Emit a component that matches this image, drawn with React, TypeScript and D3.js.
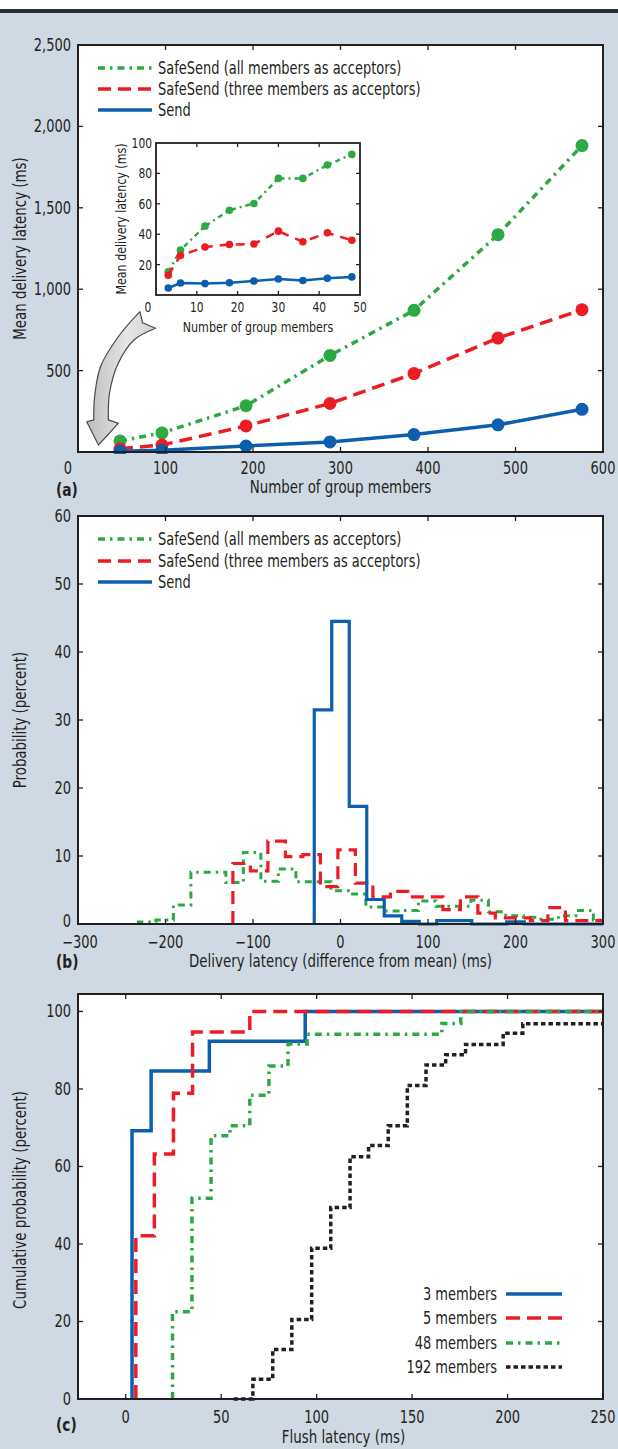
import React, { useEffect, useRef } from 'react';
import * as d3 from 'd3';

const FONT = "'Liberation Sans Narrow', 'DejaVu Sans Condensed', 'Arial Narrow', sans-serif";
const SX = 0.85; // the original face is a condensed one, squeeze ours to match
const INK = '#231f20';
const BG = '#cfd9e4';
const GREEN = '#2ea843';
const RED = '#ed1c24';
const BLUE = '#0c5fad';
const DARK = '#231f20';

const WIDTH = 618;
const HEIGHT = 1449;
const LEFT = 78;
const RIGHT = 603;

const seriesNames = [
  'SafeSend (all members as acceptors)',
  'SafeSend (three members as acceptors)',
  'Send',
];

// (a) mean delivery latency vs. number of group members
const groupSizes = [48, 96, 192, 288, 384, 480, 576];
const safeAllLatency = [68, 117, 284, 593, 870, 1335, 1882];
const safeThreeLatency = [20, 43, 160, 298, 482, 700, 874];
const sendLatency = [5, 10, 37, 62, 107, 167, 262];
const xTicksA = [0, 100, 200, 300, 400, 500, 600];
const yTicksA = [500, 1000, 1500, 2000, 2500];

// (a) inset, small groups
const insetSizes = [3, 6, 12, 18, 24, 30, 36, 42, 48];
const insetSafeAll = [15.2, 29.5, 45.3, 55.8, 60.2, 76.7, 76.7, 85.5, 92.5];
const insetSafeThree = [13, 26, 31.6, 33.2, 33.6, 42, 35, 40.9, 36];
const insetSend = [4.6, 7.9, 7.5, 8.1, 9.2, 10.5, 9.5, 11, 11.9];
const xTicksInset = [0, 10, 20, 30, 40, 50];
const yTicksInset = [20, 40, 60, 80, 100];

// (b) histograms of delivery latency (difference from mean), 20 ms bins
const binWidth = 20;
const safeAllStart = -231;
const safeAllHist = [0.3, 0.6, 2.8, 7.6, 7.6, 6.1, 10.5, 6.3, 8.1, 6.2, 6.2, 4.9, 4.4, 2.5, 1.9, 2.0, 3.4, 2.6, 2.6, 3.5, 1.8, 1.2, 1.0, 0.7, 1.2, 2.0, 0.6];
const safeThreeStart = -123;
const safeThreeHist = [8.9, 7.8, 12.2, 9.9, 10.2, 5.5, 10.9, 6.0, 4.0, 4.8, 4.0, 4.0, 2.1, 4.0, 1.6, 0.9, 0.9, 0.5, 2.4, 0.5, 0.5, 0.5];
const sendStart = -30;
const sendHist = [31.5, 44.5, 17.3, 3.6, 1.2, 0.4, 0, 0.5, 0.5, 0, 0, 0.3];
const xTicksB = [-300, -200, -100, 0, 100, 200, 300];
const yTicksB = [0, 10, 20, 30, 40, 50, 60];

// (c) cumulative distribution of flush latency
const flushNames = ['3 members', '5 members', '48 members', '192 members'];
const flush3X = [3.3, 13.3, 43.8, 94];
const flush3Y = [69.2, 84.6, 92.3, 100];
const flush5X = [5.3, 15, 25, 35, 65];
const flush5Y = [42.1, 63.2, 78.9, 94.7, 100];
const flush48X = [24.5, 34.7, 44.7, 54.6, 65, 75, 85, 95, 165.6, 175.5];
const flush48Y = [22.5, 51.8, 67.9, 70.5, 78.4, 85.9, 91.6, 94.1, 96.9, 100];
const flush192X = [56.5, 66.6, 77, 87, 97.4, 107.4, 117.5, 127.2, 137.5, 147.5, 157.3, 167.6, 178, 197.7, 208];
const flush192Y = [0, 5.1, 12.8, 20.5, 38.9, 49.4, 62.5, 65.4, 70.5, 80.9, 86.2, 88.8, 91.5, 94.4, 96.8];
const xTicksC = [0, 50, 100, 150, 200, 250];
const yTicksC = [0, 20, 40, 60, 80, 100];

const styleAll = { color: GREEN, dash: '7,5,2.5,5', width: 3.5 };
const styleThree = { color: RED, dash: '13,7', width: 3.5 };
const styleSend = { color: BLUE, dash: null, width: 3.5 };

function label(g: any, x: number, y: number, s: string, size = 17, anchor = 'middle', rot = 0) {
  return g.append('text')
    .attr('transform', `translate(${x},${y})${rot ? ` rotate(${rot})` : ''} scale(${SX},1)`)
    .attr('dy', '0.35em')
    .attr('font-family', FONT).attr('font-size', size)
    .attr('fill', INK).attr('text-anchor', anchor)
    .text(s);
}

function box(g: any, x: any, y: any) {
  const [x0, x1] = x.range();
  const [y0, y1] = y.range();
  g.append('rect').attr('x', x0).attr('y', y1)
    .attr('width', x1 - x0).attr('height', y0 - y1).attr('fill', '#fff');
}

function border(g: any, x: any, y: any, xt: number[], yt: number[], len = 5, sw = 2) {
  const [x0, x1] = x.range();
  const [y0, y1] = y.range();
  const t = g.append('g').attr('stroke', DARK).attr('stroke-width', 1.3);
  xt.forEach((v) => {
    t.append('line').attr('x1', x(v)).attr('x2', x(v)).attr('y1', y0).attr('y2', y0 - len);
    t.append('line').attr('x1', x(v)).attr('x2', x(v)).attr('y1', y1).attr('y2', y1 + len);
  });
  yt.forEach((v) => {
    t.append('line').attr('y1', y(v)).attr('y2', y(v)).attr('x1', x0).attr('x2', x0 + len);
    t.append('line').attr('y1', y(v)).attr('y2', y(v)).attr('x1', x1).attr('x2', x1 - len);
  });
  g.append('rect').attr('x', x0).attr('y', y1)
    .attr('width', x1 - x0).attr('height', y0 - y1)
    .attr('fill', 'none').attr('stroke', DARK).attr('stroke-width', sw);
}

function clip(defs: any, id: string, x: any, y: any) {
  const [x0, x1] = x.range();
  const [y0, y1] = y.range();
  defs.append('clipPath').attr('id', id).append('rect')
    .attr('x', x0).attr('y', y1 - 4).attr('width', x1 - x0).attr('height', y0 - y1 + 6);
}

function stroke(path: any, st: any, w?: number, dash?: string | null) {
  path.attr('fill', 'none').attr('stroke', st.color)
    .attr('stroke-width', w ?? st.width)
    .attr('stroke-linejoin', 'miter');
  const d = dash === undefined ? st.dash : dash;
  if (d) path.attr('stroke-dasharray', d);
  return path;
}

function histPoints(start: number, vals: number[], to?: number) {
  const pts: [number, number][] = [[start, 0]];
  vals.forEach((v, i) => pts.push([start + i * binWidth, v]));
  const end = start + vals.length * binWidth;
  pts.push([end, 0]);
  if (to !== undefined && to > end) pts.push([to, 0]);
  return pts;
}

function ecdfPoints(xs: number[], ys: number[], xEnd: number) {
  const pts: [number, number][] = [[xs[0], 0]];
  xs.forEach((v, i) => pts.push([v, ys[i]]));
  pts.push([xEnd, ys[ys.length - 1]]);
  return pts;
}

export default function App() {
  const ref = useRef<SVGSVGElement | null>(null);

  useEffect(() => {
    const svg = d3.select(ref.current);
    svg.selectAll('*').remove();

    svg.append('rect').attr('width', WIDTH).attr('height', HEIGHT).attr('fill', BG);
    svg.append('rect').attr('width', WIDTH).attr('height', 9).attr('fill', '#fff');
    svg.append('rect').attr('y', 9).attr('width', WIDTH).attr('height', 4).attr('fill', '#2d2d2d');

    const defs = svg.append('defs');
    const grad = defs.append('linearGradient').attr('id', 'arrowFill')
      .attr('x1', '0').attr('y1', '0').attr('x2', '1').attr('y2', '0');
    grad.append('stop').attr('offset', '0%').attr('stop-color', '#bdbdbd');
    grad.append('stop').attr('offset', '60%').attr('stop-color', '#e6e6e6');
    grad.append('stop').attr('offset', '100%').attr('stop-color', '#cfcfcf');

    const legend = (g: any, rows: number[]) => {
      [styleAll, styleThree, styleSend].forEach((st, i) => {
        stroke(g.append('line').attr('x1', 98).attr('x2', 152).attr('y1', rows[i]).attr('y2', rows[i]), st);
        label(g, 158, rows[i], seriesNames[i], 17, 'start');
      });
    };

    // ---------- (a) ----------
    const xA = d3.scaleLinear().domain([0, 600]).range([LEFT, RIGHT]);
    const yA = d3.scaleLinear().domain([0, 2500]).range([452, 45]);
    const gA = svg.append('g');
    box(gA, xA, yA);
    clip(defs, 'clipA', xA, yA);

    const lineA = d3.line<number>().x((_, i) => xA(groupSizes[i])).y((d) => yA(d));
    const seriesA = [
      { vals: safeAllLatency, st: styleAll },
      { vals: safeThreeLatency, st: styleThree },
      { vals: sendLatency, st: styleSend },
    ];
    const dataA = gA.append('g').attr('clip-path', 'url(#clipA)');
    seriesA.forEach(({ vals, st }) => {
      stroke(dataA.append('path').attr('d', lineA(vals)), st);
      dataA.selectAll(null).data(vals).enter().append('circle')
        .attr('cx', (_, i) => xA(groupSizes[i])).attr('cy', (d) => yA(d))
        .attr('r', 6.5).attr('fill', st.color);
    });

    border(gA, xA, yA, [100, 200, 300, 400, 500], [500, 1000, 1500, 2000]);
    yTicksA.forEach((v) => label(gA, LEFT - 7, yA(v), d3.format(',')(v), 17, 'end'));
    xTicksA.forEach((v) => label(gA, xA(v) - (v === 0 ? 10 : 0), 452 + 16, String(v), 17));
    label(gA, (LEFT + RIGHT) / 2, 452 + 35, 'Number of group members', 17.5);
    label(gA, 20, (45 + 452) / 2, 'Mean delivery latency (ms)', 17.5, 'middle', -90);
    label(gA, 56, 490, '(a)', 18, 'start').attr('font-weight', 'bold');
    legend(gA, [68, 89, 110]);

    // inset
    const xI = d3.scaleLinear().domain([0, 50]).range([156, 360]);
    const yI = d3.scaleLinear().domain([0, 100]).range([295, 143]);
    const gI = gA.append('g');
    box(gI, xI, yI);
    const lineI = d3.line<number>().x((_, i) => xI(insetSizes[i])).y((d) => yI(d));
    [
      { vals: insetSafeAll, st: styleAll, dash: '5,4,2,4' },
      { vals: insetSafeThree, st: styleThree, dash: '9,7' },
      { vals: insetSend, st: styleSend, dash: null },
    ].forEach(({ vals, st, dash }) => {
      stroke(gI.append('path').attr('d', lineI(vals)), st, 2.5, dash);
      gI.selectAll(null).data(vals).enter().append('circle')
        .attr('cx', (_, i) => xI(insetSizes[i])).attr('cy', (d) => yI(d))
        .attr('r', 3.8).attr('fill', st.color);
    });
    border(gI, xI, yI, [10, 20, 30, 40], [20, 40, 60, 80], 4, 1.8);
    yTicksInset.forEach((v) => label(gI, 152, yI(v), String(v), 14, 'end'));
    xTicksInset.forEach((v) => label(gI, xI(v) - (v === 0 ? 8 : 0), 307, String(v), 14));
    label(gI, (156 + 360) / 2, 327, 'Number of group members', 14.5);
    label(gI, 121, (143 + 295) / 2, 'Mean delivery latency (ms)', 14.5, 'middle', -90);

    // arrow from inset down to the small group sizes
    const outer: [number, number][] = [[70.7, 862], [46, 708], [25.7, 524], [19, 340], [18, 197]];
    const head: [number, number][] = [[10, 186], [23.4, 43], [46, 176], [34.7, 197]];
    const inner: [number, number][] = [[34.7, 197], [36, 361], [46, 545], [64, 688], [88.7, 760]];
    const notch: [number, number] = [73.8, 794];
    const px = (p: [number, number]) => [xA(p[0]), yA(p[1])] as [number, number];
    const curve = d3.line().curve(d3.curveCatmullRom);
    const outerD = curve(outer.map(px)) as string;
    const innerD = (curve(inner.map(px)) as string).replace(/^M/, 'L');
    const headD = head.map((p) => `L${px(p).join(',')}`).join('');
    gA.append('path')
      .attr('d', `${outerD}${headD}${innerD}L${px(notch).join(',')}Z`)
      .attr('fill', 'url(#arrowFill)').attr('stroke', '#4a4a4a').attr('stroke-width', 1.2)
      .attr('stroke-linejoin', 'round');

    // ---------- (b) ----------
    const xB = d3.scaleLinear().domain([-300, 300]).range([LEFT, RIGHT]);
    const yB = d3.scaleLinear().domain([0, 60]).range([924, 516]);
    const gB = svg.append('g');
    box(gB, xB, yB);
    clip(defs, 'clipB', xB, yB);
    const lineB = d3.line<[number, number]>().x((d) => xB(d[0])).y((d) => yB(d[1])).curve(d3.curveStepAfter);
    const dataB = gB.append('g').attr('clip-path', 'url(#clipB)');
    border(gB, xB, yB, [-200, -100, 0, 100, 200], [10, 20, 30, 40, 50]);
    stroke(dataB.append('path').attr('d', lineB(histPoints(safeAllStart, safeAllHist, 320))), styleAll, 3);
    stroke(dataB.append('path').attr('d', lineB(histPoints(safeThreeStart, safeThreeHist, 320))), styleThree, 3.2);
    stroke(dataB.append('path').attr('d', lineB(histPoints(sendStart, sendHist, 300))), styleSend, 3.2);
    yTicksB.forEach((v) => label(gB, LEFT - 7, yB(v) - (v === 0 ? 3 : 0), String(v), 17, 'end'));
    xTicksB.forEach((v) => label(gB, xB(v) + (v === -300 ? 2 : 0), 924 + 18, d3.format('d')(v), 17));
    label(gB, (LEFT + RIGHT) / 2, 924 + 37, 'Delivery latency (difference from mean) (ms)', 17.5);
    label(gB, 20, (516 + 924) / 2, 'Probability (percent)', 17.5, 'middle', -90);
    label(gB, 56, 962, '(b)', 18, 'start').attr('font-weight', 'bold');
    legend(gB, [539, 561, 582]);

    // ---------- (c) ----------
    const xC = d3.scaleLinear().domain([-25, 250]).range([LEFT, RIGHT]);
    const yC = d3.scaleLinear().domain([0, 104.5]).range([1399, 994]);
    const gC = svg.append('g');
    box(gC, xC, yC);
    clip(defs, 'clipC', xC, yC);
    const lineC = d3.line<[number, number]>().x((d) => xC(d[0])).y((d) => yC(d[1])).curve(d3.curveStepAfter);
    const dataC = gC.append('g').attr('clip-path', 'url(#clipC)');
    const styleBlack = { color: DARK, dash: '4.5,3', width: 3.5 };
    const styleAllC = { color: GREEN, dash: '7,5,2.5,5', width: 3.5 };
    const styleThreeC = { color: RED, dash: '14,7', width: 3.5 };
    const seriesC = [
      { xs: flush3X, ys: flush3Y, st: styleSend },
      { xs: flush5X, ys: flush5Y, st: styleThreeC },
      { xs: flush48X, ys: flush48Y, st: styleAllC },
      { xs: flush192X, ys: flush192Y, st: styleBlack },
    ];
    border(gC, xC, yC, [0, 50, 100, 150, 200], [20, 40, 60, 80, 100]);
    seriesC.forEach(({ xs, ys, st }) => {
      stroke(dataC.append('path').attr('d', lineC(ecdfPoints(xs, ys, 260))), st);
    });
    yTicksC.forEach((v) => label(gC, LEFT - 7, yC(v), String(v), 17, 'end'));
    xTicksC.forEach((v) => label(gC, xC(v), 1399 + 18, String(v), 17));
    label(gC, (LEFT + RIGHT) / 2 + 3, 1399 + 38, 'Flush latency (ms)', 17.5);
    label(gC, 20, 1200, 'Cumulative probability (percent)', 17.5, 'middle', -90);
    label(gC, 56, 1425, '(c)', 18, 'start').attr('font-weight', 'bold');

    const rowsC = [1294, 1318, 1343, 1367];
    seriesC.forEach(({ st }, i) => {
      stroke(gC.append('line').attr('x1', 506).attr('x2', 562).attr('y1', rowsC[i]).attr('y2', rowsC[i]), st);
      label(gC, 497, rowsC[i], flushNames[i], 17, 'end');
    });
  }, []);

  return (
    <svg
      ref={ref}
      width={WIDTH}
      height={HEIGHT}
      style={{ position: 'absolute', left: 0, top: 0, display: 'block' }}
    />
  );
}
